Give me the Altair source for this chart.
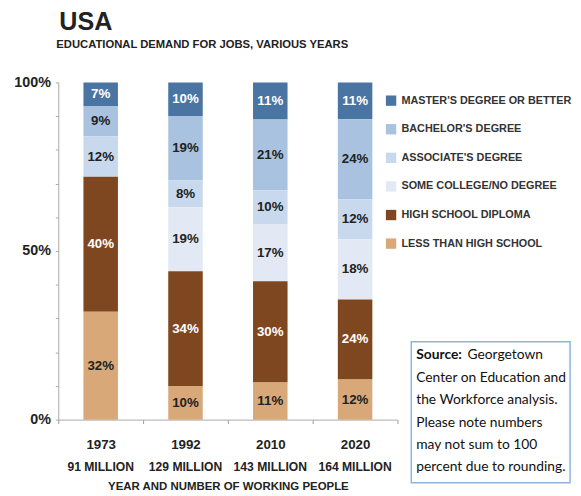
import altair as alt
import pandas as pd

years = ["1973", "1992", "2010", "2020"]
workers = ["91 MILLION", "129 MILLION", "143 MILLION", "164 MILLION"]
categories = ["MASTER'S DEGREE OR BETTER", "BACHELOR'S DEGREE", "ASSOCIATE'S DEGREE",
              "SOME COLLEGE/NO DEGREE", "HIGH SCHOOL DIPLOMA", "LESS THAN HIGH SCHOOL"]
colors = ["#4a75a3", "#a8c2e0", "#c8d9ed", "#e2e9f4", "#7f471f", "#d8a878"]
text_colors = ["white", "#222222", "#222222", "#222222", "white", "#222222"]
# values per category, one per year
masters = [7, 10, 11, 11]
bachelors = [9, 19, 21, 24]
associates = [12, 8, 10, 12]
some_college = [0, 19, 17, 18]
hs_diploma = [40, 34, 30, 24]
less_hs = [32, 10, 11, 12]
y_ticks = [0, 0.1, 0.2, 0.3, 0.4, 0.5, 0.6, 0.7, 0.8, 0.9, 1.0]
source_lines = ["Center on Education and", "the Workforce analysis.", "Please note numbers",
                "may not sum to 100", "percent due to rounding."]

series = [masters, bachelors, associates, some_college, hs_diploma, less_hs]
rows = []
for ci, (cat, vals) in enumerate(zip(categories, series)):
    for yi, y in enumerate(years):
        rows.append({"year": y, "cat": cat, "value": vals[yi],
                     "order": len(categories) - ci, "tcol": text_colors[ci]})
df = pd.DataFrame(rows)
wdf = pd.DataFrame({"year": years, "workers": workers})

FONT = "Liberation Sans, Arial, sans-serif"
W, H = 344, 342

base = alt.Chart(df).transform_joinaggregate(
    total="sum(value)", groupby=["year"]
).transform_calculate(
    frac="datum.value / datum.total"
).transform_stack(
    stack="frac", groupby=["year"], sort=[alt.SortField("order")], as_=["y0", "y1"]
).transform_calculate(
    mid="(datum.y0 + datum.y1) / 2",
    label="datum.value + '%'"
)

xaxis = alt.Axis(title="YEAR AND NUMBER OF WORKING PEOPLE", labelAngle=0,
                 labelFont=FONT, labelFontSize=13.5, labelFontWeight="bold",
                 labelColor="#222", labelPadding=14, tickBand="extent",
                 tickSize=4, tickColor="#999", domainColor="#aaa",
                 titleFont=FONT, titleFontSize=11.6, titleFontWeight="bold",
                 titleColor="#222", titlePadding=30)
yaxis = alt.Axis(title=None, values=y_ticks,
                 labelExpr="datum.value == 0 || datum.value == 0.5 || datum.value == 1 ? format(datum.value, '.0%') : ''",
                 labelOverlap=False,
                 labelFont=FONT, labelFontSize=14.5, labelFontWeight="bold",
                 labelColor="#222", grid=False, tickSize=3, tickColor="#aaa",
                 domainColor="#aaa", labelPadding=5)
xscale = alt.Scale(paddingInner=0, paddingOuter=0)
yscale = alt.Scale(domain=[0, 1])

bars = base.mark_bar(size=35).encode(
    x=alt.X("year:N", sort=years, scale=xscale, axis=xaxis),
    y=alt.Y("y0:Q", scale=yscale, axis=yaxis),
    y2="y1:Q",
    color=alt.Color("cat:N", scale=alt.Scale(domain=categories, range=colors),
                    legend=alt.Legend(title=None, orient="none", legendX=332, legendY=13,
                                      symbolType="square", symbolSize=110, symbolStrokeWidth=0,
                                      labelFont=FONT, labelFontSize=11.0, labelFontWeight="bold",
                                      labelColor="#333", labelOffset=5, rowPadding=17.0,
                                      labelLimit=250)),
)

labels = base.transform_filter("datum.value > 0").mark_text(
    font=FONT, fontSize=13.5, fontWeight="bold"
).encode(
    x=alt.X("year:N", sort=years, scale=xscale, axis=xaxis),
    y=alt.Y("mid:Q", scale=yscale, axis=yaxis),
    text="label:N",
    color=alt.Color("tcol:N", scale=None),
)

work = alt.Chart(wdf).mark_text(font=FONT, fontSize=12.3, fontWeight="bold", color="#222").encode(
    x=alt.X("year:N", sort=years, scale=xscale, axis=xaxis),
    y=alt.value(H + 48),
    text="workers:N",
)

one = pd.DataFrame({"a": [0]})
title = alt.Chart(one).mark_text(text="USA", font=FONT, fontSize=25.5, fontWeight="bold",
                                 align="left", baseline="middle", color="#222").encode(
    x=alt.value(1), y=alt.value(-61))
subtitle = alt.Chart(one).mark_text(text="EDUCATIONAL DEMAND FOR JOBS, VARIOUS YEARS", font=FONT,
                                    fontSize=11.4, fontWeight="bold", align="left",
                                    baseline="middle", color="#222").encode(
    x=alt.value(-2), y=alt.value(-38))

box = alt.Chart(one).mark_rect(fill="white", stroke="#8db3e2", strokeWidth=1.5).encode(
    x=alt.value(358), x2=alt.value(519), y=alt.value(263), y2=alt.value(406))
SF = "Lato, Open Sans, sans-serif"
src_layers = [
    alt.Chart(one).mark_text(text="Source:", font=SF, fontSize=14, fontWeight="bold",
                             align="left", baseline="middle", color="#111").encode(
        x=alt.value(363), y=alt.value(277)),
    alt.Chart(one).mark_text(text="Georgetown", font=SF, fontSize=14,
                             align="left", baseline="middle", color="#111").encode(
        x=alt.value(415), y=alt.value(277)),
]
for i, line in enumerate(source_lines):
    src_layers.append(
        alt.Chart(one).mark_text(text=line, font=SF, fontSize=14, align="left",
                                 baseline="middle", color="#111").encode(
            x=alt.value(363), y=alt.value(300 + 22.6 * i)))

chart = alt.layer(bars, labels, work, title, subtitle, box, *src_layers).properties(
    width=W, height=H,
    autosize=alt.AutoSizeParams(type="none"),
    padding={"left": 51, "top": 72, "right": 178, "bottom": 74},
).configure_view(stroke=None)

chart.save("out.html", embed_options={"renderer": "svg", "actions": False})
